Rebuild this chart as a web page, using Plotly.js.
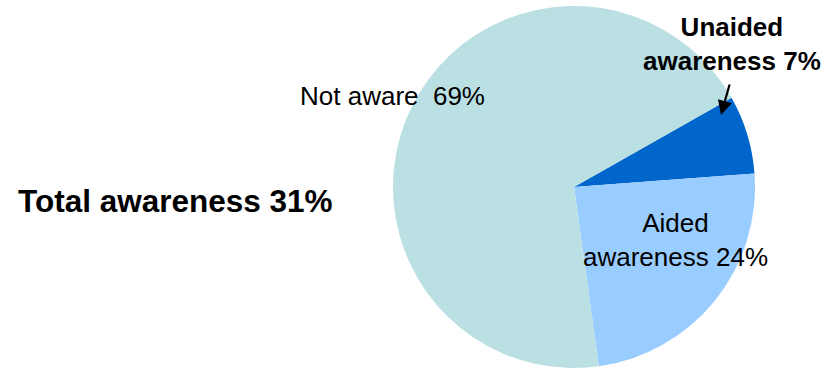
<!DOCTYPE html>
<html>
<head>
<meta charset="utf-8">
<script src="https://cdn.plot.ly/plotly-3.0.1.min.js"></script>
<style>html,body{margin:0;padding:0;background:#fff;}#chart{width:825px;height:369px;}</style>
</head>
<body>
<div id="chart"></div>
<script>
// Data
const labels = ["Unaided awareness", "Aided awareness", "Not aware"];
const values = [7, 24, 69];
const colors = ["#0066CC", "#99CCFF", "#BBE0E3"];
const totalLabel = "Total awareness";
const totalValue = values[0] + values[1];

const W = 825, H = 369;
const px = x => x / W;
const py = y => 1 - y / H;

const trace = {
  type: "pie",
  labels: labels,
  values: values,
  sort: false,
  direction: "clockwise",
  rotation: 60.5,
  marker: {colors: colors, line: {width: 0}},
  textinfo: "none",
  hoverinfo: "label+percent",
  showlegend: false,
  domain: {x: [(574 - 181) / W, (574 + 181) / W], y: [1 - 368 / H, 1 - 6 / H]}
};

const font = {family: "Liberation Sans, Arial, sans-serif", color: "#000", size: 26};
const layout = {
  width: W, height: H,
  margin: {l: 0, r: 0, t: 0, b: 0},
  paper_bgcolor: "#fff",
  showlegend: false,
  annotations: [
    {text: "<b>" + totalLabel + " " + totalValue + "%</b>", x: px(175.5), y: py(201), xref: "paper", yref: "paper",
     xanchor: "center", yanchor: "middle", showarrow: false, font: Object.assign({}, font, {size: 31.5})},
    {text: labels[2] + "  " + values[2] + "%", x: px(392.5), y: py(96), xref: "paper", yref: "paper",
     xanchor: "center", yanchor: "middle", showarrow: false, font: font},
    {text: "Aided<br>awareness " + values[1] + "%", x: px(675), y: py(240), xref: "paper", yref: "paper",
     xanchor: "center", yanchor: "middle", showarrow: false, font: font},
    {text: "<b>Unaided<br>awareness " + values[0] + "%</b>", x: px(732), y: py(44), xref: "paper", yref: "paper",
     xanchor: "center", yanchor: "middle", showarrow: false, font: font},
    {text: "", x: px(721), y: py(115), xref: "paper", yref: "paper", showarrow: true,
     ax: 9, ay: -32, arrowhead: 2, arrowsize: 1.3, arrowwidth: 2.2, arrowcolor: "#000"}
  ]
};

Plotly.newPlot("chart", [trace], layout, {displayModeBar: false, staticPlot: true});
</script>
</body>
</html>
